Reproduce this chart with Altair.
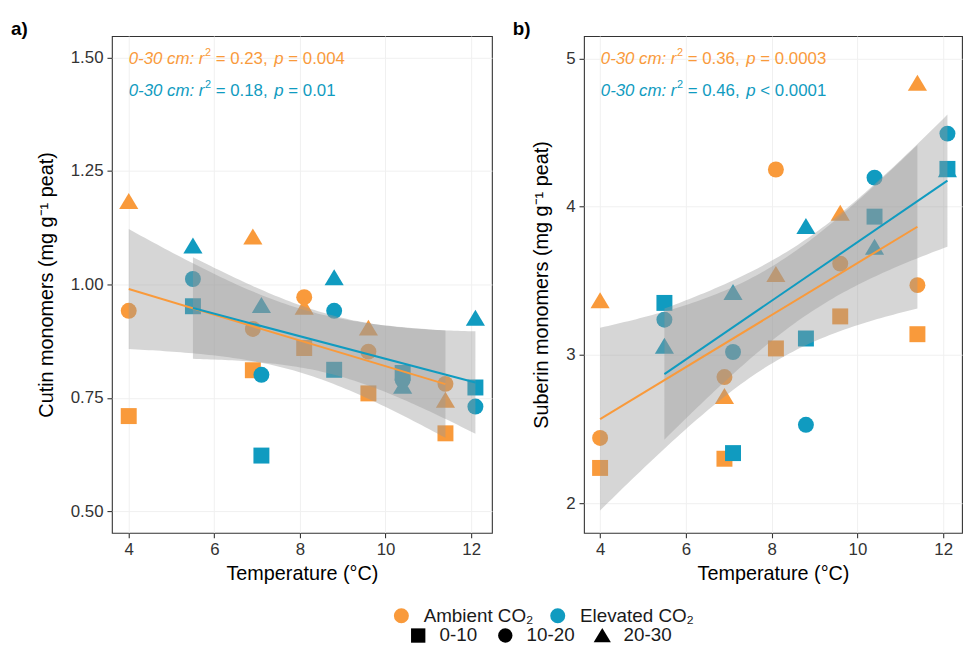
import numpy as np
import pandas as pd
import altair as alt

# ---------------- data ----------------
temps_ambient = [4.0, 6.9, 8.1, 9.6, 11.4]
temps_elevated = [5.5, 7.1, 8.8, 10.4, 12.1]
depth_levels = ["0-10", "10-20", "20-30"]
co2_levels = ["Ambient CO\u2082", "Elevated CO\u2082"]

# Cutin monomers (mg g-1 peat)
cutin_amb_0_10 = [0.710, 0.811, 0.860, 0.760, 0.672]
cutin_amb_10_20 = [0.942, 0.902, 0.972, 0.852, 0.781]
cutin_amb_20_30 = [1.183, 1.105, 0.950, 0.904, 0.745]
cutin_elev_0_10 = [0.952, 0.623, 0.812, 0.805, 0.773]
cutin_elev_10_20 = [1.012, 0.801, 0.942, 0.790, 0.731]
cutin_elev_20_30 = [1.085, 0.954, 1.015, 0.776, 0.926]

# Suberin monomers (mg g-1 peat)
suberin_amb_0_10 = [2.238, 2.300, 3.044, 3.260, 3.140]
suberin_amb_10_20 = [2.440, 2.851, 4.251, 3.616, 3.471]
suberin_amb_20_30 = [3.367, 2.720, 3.544, 3.956, 4.833]
suberin_elev_0_10 = [3.351, 2.338, 3.111, 3.933, 4.255]
suberin_elev_10_20 = [3.238, 3.020, 2.529, 4.196, 4.493]
suberin_elev_20_30 = [3.060, 3.422, 3.867, 3.727, 4.250]

annot_cutin = [("0.23", "=", "0.004"), ("0.18", "=", "0.01")]
annot_suberin = [("0.36", "=", "0.0003"), ("0.46", "<", "0.0001")]

ORANGE = "#F99A3B"
TEAL = "#109BC0"
FONT = "Liberation Sans"
TRIANGLE = "M0,-1.05L1.2,0.95L-1.2,0.95Z"


def build_df(amb, elev):
    rows = []
    for co2, temps, series in ((co2_levels[0], temps_ambient, amb),
                               (co2_levels[1], temps_elevated, elev)):
        for depth, vals in zip(depth_levels, series):
            for t, v in zip(temps, vals):
                rows.append({"T": t, "value": v, "co2": co2, "depth": depth})
    return pd.DataFrame(rows)


def band_df(df):
    # 95% confidence band of the linear fit (t, df = 13)
    out = []
    for co2 in co2_levels:
        d = df[df.co2 == co2]
        x = d["T"].to_numpy()
        y = d["value"].to_numpy()
        n = len(x)
        b, a = np.polyfit(x, y, 1)
        res = y - (a + b * x)
        s = np.sqrt((res ** 2).sum() / (n - 2))
        sxx = ((x - x.mean()) ** 2).sum()
        tcrit = 2.1604
        xs = np.linspace(x.min(), x.max(), 80)
        fit = a + b * xs
        se = s * np.sqrt(1.0 / n + (xs - x.mean()) ** 2 / sxx)
        for xv, f, e in zip(xs, fit, se):
            out.append({"T": xv, "lo": f - tcrit * e, "hi": f + tcrit * e, "co2": co2})
    return pd.DataFrame(out)


W = {str(i): 556 for i in range(10)}
W.update({" ": 278, "-": 333, "c": 500, "m": 833, ":": 278, "r": 333, "=": 584,
          ",": 278, ".": 278, "p": 556, "<": 584})


def tw(s, fs):
    return sum(W.get(ch, 556) for ch in s) / 1000.0 * fs


def text_layer(txt, x, y, color, size, style="normal", weight="normal"):
    return alt.Chart(pd.DataFrame({"t": [txt]})).mark_text(
        align="left", baseline="alphabetic", font=FONT, fontSize=size,
        fontStyle=style, fontWeight=weight, color=color
    ).encode(text="t:N", x=alt.value(x), y=alt.value(y))


def annotation(r2, op, p, color, y0):
    fs = 17
    sp = tw(" ", fs)
    x0 = 17
    layers = []
    s1 = "0-30 cm: r"
    layers.append(text_layer(s1, x0, y0, color, fs, "italic"))
    xs = x0 + tw(s1, fs) + 0.5
    layers.append(text_layer("2", xs, y0 - 8, color, 11, "normal"))
    xe = xs + tw("2", 11) + sp
    s2 = "= " + r2 + ","
    layers.append(text_layer(s2, xe, y0, color, fs))
    xp = xe + tw(s2, fs) + sp + 2
    layers.append(text_layer("p", xp, y0, color, fs, "italic"))
    xq = xp + tw("p", fs) + sp
    s4 = op + " " + p
    layers.append(text_layer(s4, xq, y0, color, fs))
    return layers


color_legend = alt.Legend(orient="none", legendX=283, legendY=576, direction="horizontal",
                          title=None, symbolType="circle", symbolSize=230,
                          symbolStrokeWidth=0, symbolOpacity=1, labelFontSize=19,
                          labelOffset=13, columnPadding=15, labelFont=FONT,
                          labelColor="#1a1a1a")
shape_legend = alt.Legend(orient="none", legendX=300, legendY=596, direction="horizontal",
                          title=None, symbolSize=210, symbolFillColor="black",
                          symbolStrokeColor="black", symbolStrokeWidth=0, symbolOpacity=1,
                          labelFontSize=19, labelOffset=12, columnPadding=18,
                          labelFont=FONT, labelColor="#1a1a1a")


def panel(df, ylab, ydomain, yticks, yfmt, xdomain, width, label, label_x, annots):
    xs = alt.Scale(domain=xdomain, nice=False, zero=False)
    ys = alt.Scale(domain=ydomain, nice=False, zero=False)
    xenc = alt.X("T:Q", scale=xs,
                 axis=alt.Axis(values=[4, 6, 8, 10, 12], title="Temperature (\u00b0C)",
                               format="d"))
    yenc = alt.Y("value:Q", scale=ys,
                 axis=alt.Axis(values=yticks, format=yfmt, title=ylab))
    points = alt.Chart(df).mark_point(filled=True, opacity=1, strokeWidth=0, size=260).encode(
        x=xenc, y=yenc,
        color=alt.Color("co2:N", scale=alt.Scale(domain=co2_levels, range=[ORANGE, TEAL]),
                        legend=color_legend),
        shape=alt.Shape("depth:N", scale=alt.Scale(domain=depth_levels,
                                                   range=["square", "circle", TRIANGLE]),
                        legend=shape_legend),
    )
    bands = alt.Chart(band_df(df)).mark_area(color="#999999", opacity=0.4).encode(
        x=alt.X("T:Q", scale=xs), y=alt.Y("lo:Q", scale=ys), y2="hi:Q", detail="co2:N"
    )
    lines = []
    for co2, col in zip(co2_levels, [ORANGE, TEAL]):
        lines.append(
            alt.Chart(df).transform_filter(alt.datum.co2 == co2)
            .transform_regression("T", "value")
            .mark_line(color=col, strokeWidth=2)
            .encode(x=alt.X("T:Q", scale=xs), y=alt.Y("value:Q", scale=ys))
        )
    texts = []
    texts += annotation(*annots[0], ORANGE, 28.5)
    texts += annotation(*annots[1], TEAL, 60.5)
    texts.append(text_layer(label, label_x, -1, "black", 19, "normal", "bold"))
    return alt.layer(points, bands, *lines, *texts).properties(width=width, height=502)


cutin_df = build_df([cutin_amb_0_10, cutin_amb_10_20, cutin_amb_20_30],
                    [cutin_elev_0_10, cutin_elev_10_20, cutin_elev_20_30])
suberin_df = build_df([suberin_amb_0_10, suberin_amb_10_20, suberin_amb_20_30],
                      [suberin_elev_0_10, suberin_elev_10_20, suberin_elev_20_30])

left = panel(cutin_df, "Cutin monomers (mg g\u207b\u00b9 peat)", [0.4527, 1.5473],
             [0.5, 0.75, 1.0, 1.25, 1.5], ".2f", [3.607, 12.486], 384, "a)", -102,
             annot_cutin)
right = panel(suberin_df, "Suberin monomers (mg g\u207b\u00b9 peat)", [1.80, 5.151],
              [2, 3, 4, 5], "d", [3.624, 12.44], 382, "b)", -72, annot_suberin)

chart = alt.hconcat(left, right, spacing=19).properties(
    padding={"left": 2, "top": 8, "right": 0, "bottom": 0}
).configure_view(
    stroke="#333333", strokeWidth=1.1
).configure_axis(
    domain=False, grid=True, gridColor="#F0F0F0", gridWidth=1,
    tickColor="#333333", tickSize=5, tickWidth=1.1,
    labelFont=FONT, labelFontSize=17, labelColor="#333333", labelPadding=4,
    titleFont=FONT, titleFontSize=20, titleFontWeight="normal", titleColor="black",
).configure_axisY(titlePadding=14).configure_axisX(titlePadding=6)

chart.save("out.html", embed_options={"renderer": "svg", "actions": False})
